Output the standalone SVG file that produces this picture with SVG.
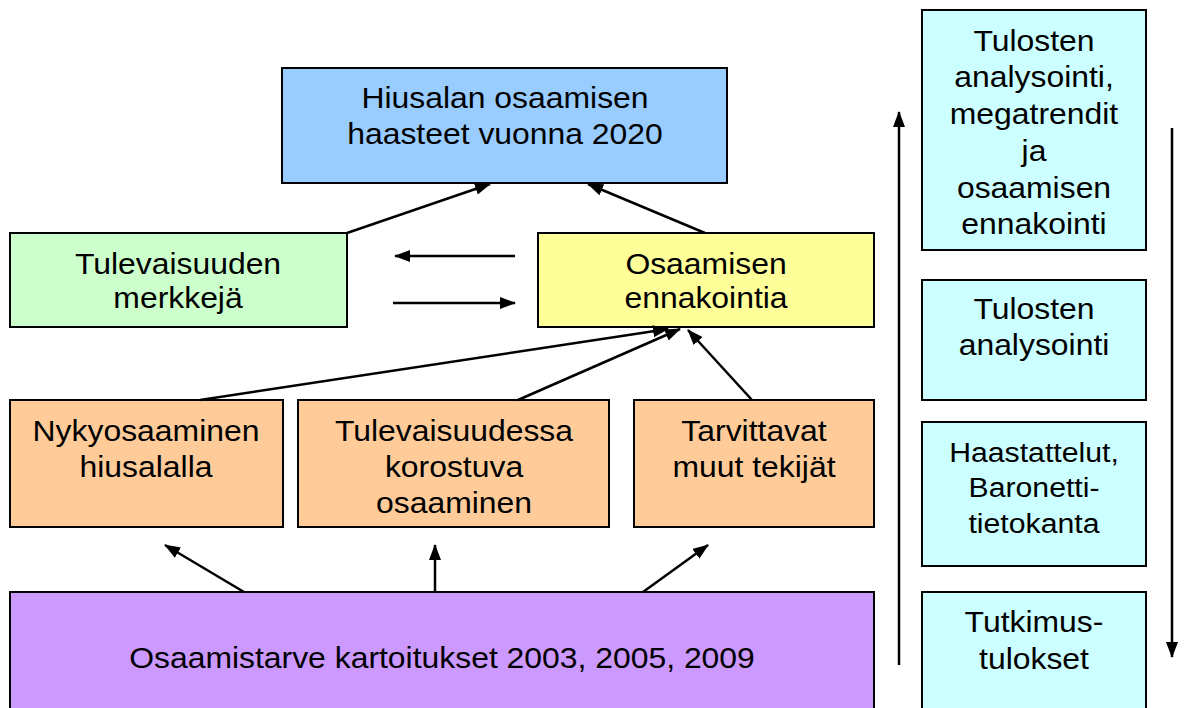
<svg xmlns="http://www.w3.org/2000/svg" width="1185" height="708" viewBox="0 0 1185 708">
<defs>
<marker id="ah" markerWidth="16" markerHeight="12" refX="15" refY="6" orient="auto" markerUnits="userSpaceOnUse">
<path d="M0,0 L16,6 L0,12 Z" fill="#000"/>
</marker>
<style>
.box{stroke:#000;stroke-width:2}
.t{font-family:"Liberation Sans",Arial,sans-serif;font-size:29px;fill:#000;text-anchor:middle}
.s{font-size:27px}
.c{stroke:#000;stroke-width:2.5;fill:none;marker-end:url(#ah)}
</style>
</defs>
<rect width="1185" height="708" fill="#fff"/>
<g id="blue"><rect class="box" x="282" y="68" width="445" height="115" fill="#99CCFF"/>
<text class="t" transform="translate(505,108) scale(1.1,1)">Hiusalan osaamisen</text><text class="t" transform="translate(505,144) scale(1.1,1)">haasteet vuonna 2020</text></g>
<g id="green"><rect class="box" x="10" y="233" width="337" height="94" fill="#CCFFCC"/>
<text class="t" transform="translate(178,274) scale(1.1,1)">Tulevaisuuden</text><text class="t" transform="translate(178,308) scale(1.1,1)">merkkejä</text></g>
<g id="yellow"><rect class="box" x="538" y="233" width="336" height="94" fill="#FFFF99"/>
<text class="t" transform="translate(706,274) scale(1.1,1)">Osaamisen</text><text class="t" transform="translate(706,308) scale(1.1,1)">ennakointia</text></g>
<g id="orange1"><rect class="box" x="10" y="400" width="273" height="127" fill="#FFCC99"/>
<text class="t" transform="translate(146,441) scale(1.1,1)">Nykyosaaminen</text><text class="t" transform="translate(146,477) scale(1.1,1)">hiusalalla</text></g>
<g id="orange2"><rect class="box" x="298" y="400" width="311" height="127" fill="#FFCC99"/>
<text class="t" transform="translate(454,441) scale(1.1,1)">Tulevaisuudessa</text><text class="t" transform="translate(454,477) scale(1.1,1)">korostuva</text><text class="t" transform="translate(454,513) scale(1.1,1)">osaaminen</text></g>
<g id="orange3"><rect class="box" x="634" y="400" width="240" height="127" fill="#FFCC99"/>
<text class="t" transform="translate(754,441) scale(1.1,1)">Tarvittavat</text><text class="t" transform="translate(754,477) scale(1.1,1)">muut tekijät</text></g>
<g id="purple"><rect class="box" x="10" y="592" width="864" height="130" fill="#CC99FF"/>
<text class="t" transform="translate(442,668) scale(1.1,1)">Osaamistarve kartoitukset 2003, 2005, 2009</text></g>
<g id="cyan1"><rect class="box" x="922" y="10" width="224" height="240" fill="#CCFFFF"/>
<text class="t" transform="translate(1034,51) scale(1.1,1)">Tulosten</text><text class="t" transform="translate(1034,87) scale(1.1,1)">analysointi,</text><text class="t" transform="translate(1034,124) scale(1.1,1)">megatrendit</text><text class="t" transform="translate(1034,161) scale(1.1,1)">ja</text><text class="t" transform="translate(1034,198) scale(1.1,1)">osaamisen</text><text class="t" transform="translate(1034,234) scale(1.1,1)">ennakointi</text></g>
<g id="cyan2"><rect class="box" x="922" y="280" width="224" height="120" fill="#CCFFFF"/>
<text class="t" transform="translate(1034,319) scale(1.1,1)">Tulosten</text><text class="t" transform="translate(1034,355) scale(1.1,1)">analysointi</text></g>
<g id="cyan3"><rect class="box" x="922" y="422" width="224" height="144" fill="#CCFFFF"/>
<text class="t s" transform="translate(1034,462) scale(1.12,1)">Haastattelut,</text><text class="t s" transform="translate(1034,497) scale(1.12,1)">Baronetti-</text><text class="t s" transform="translate(1034,533) scale(1.12,1)">tietokanta</text></g>
<g id="cyan4"><rect class="box" x="922" y="592" width="224" height="130" fill="#CCFFFF"/>
<text class="t" transform="translate(1034,632) scale(1.1,1)">Tutkimus-</text><text class="t" transform="translate(1034,669) scale(1.1,1)">tulokset</text></g>
<g id="connectors">
<line class="c" x1="347" y1="233" x2="490" y2="184"/>
<line class="c" x1="705" y1="233" x2="588" y2="184"/>
<line class="c" x1="515" y1="256" x2="395" y2="256"/>
<line class="c" x1="393" y1="303" x2="515" y2="303"/>
<line class="c" x1="200" y1="400" x2="668" y2="329"/>
<line class="c" x1="518" y1="400" x2="680" y2="329"/>
<line class="c" x1="752" y1="400" x2="688" y2="330"/>
<line class="c" x1="244" y1="592" x2="165" y2="545"/>
<line class="c" x1="435" y1="592" x2="435" y2="545"/>
<line class="c" x1="643" y1="592" x2="708" y2="545"/>
<line class="c" x1="899" y1="665" x2="899" y2="112"/>
<line class="c" x1="1172" y1="128" x2="1172" y2="657"/>
</g>
</svg>
